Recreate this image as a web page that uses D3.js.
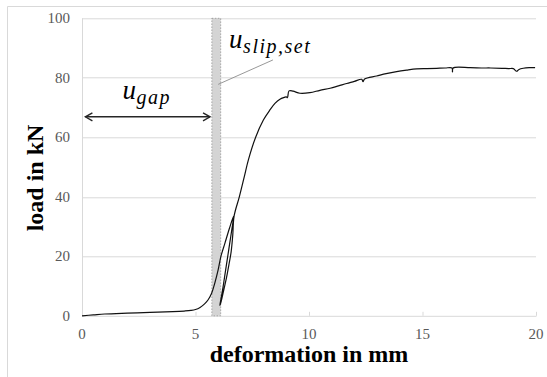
<!DOCTYPE html>
<html>
<head>
<script src="https://cdn.jsdelivr.net/npm/d3@7"></script>
</head>
<body style="margin:0">
<script>
// deformation (mm) and load (kN), incl. the unload/reload loop
const deformation = [
    0, 0.5, 1, 2, 3, 4, 4.5, 4.8, 5.0, 5.2, 5.4, 5.55, 5.71, 5.85, 6.0, 6.12, 6.3, 6.5, 6.68,
    6.6, 6.5, 6.42, 6.32, 6.22, 6.13, 6.08, 6.08,
    6.12, 6.24, 6.37, 6.48, 6.57, 6.64, 6.7,
    6.93, 7.15, 7.33, 7.65, 7.99, 8.28, 8.5, 8.72, 8.91, 9.0, 9.05, 9.12, 9.3, 9.6, 10.04,
    10.48, 10.93, 11.3, 11.66, 12.0, 12.32, 12.38, 12.45, 12.98, 13.4, 13.86, 14.3, 14.74,
    15.2, 15.62, 16.0, 16.3, 16.32, 16.35, 17.1, 17.6, 18.0, 18.5, 18.8, 19.0, 19.1, 19.15,
    19.25, 19.44, 19.7, 19.96
];
const load = [
    0, 0.3, 0.6, 0.9, 1.15, 1.4, 1.6, 1.8, 2.1, 2.8, 4.0, 5.3, 7.6, 11, 15.5, 20, 24.5, 29.5, 33.5,
    29, 24, 20, 15, 10, 6, 3.8, 3.5,
    4.5, 8.5, 13, 17.5, 21.5, 27, 33.5,
    40, 46.8, 52.4, 60, 65.8, 69.2, 71.4, 72.8, 73.4, 73.6, 73.3, 75.6, 75.5, 74.8, 75.0,
    75.8, 76.5, 77.3, 78.1, 78.8, 79.5, 78.7, 79.6, 80.6, 81.4, 82.1, 82.6, 83.0,
    83.1, 83.2, 83.3, 83.3, 82.0, 83.3, 83.4, 83.3, 83.3, 83.2, 83.1, 83.1, 82.4, 82.2,
    82.8, 83.2, 83.4, 83.4
];

const xTicks = [0, 5, 10, 15, 20];
const yTicks = [0, 20, 40, 60, 80, 100];

// annotations (data units)
const slipBand = [5.72, 6.11];
const gapArrow = [0.15, 5.64];
const gapArrowLoad = 66.9;

const SERIF = 'Liberation Serif';

const W = 547, H = 377;
const margin = { top: 18.3, right: 11, bottom: 61.2, left: 82 };
const width = W - margin.left - margin.right;
const height = H - margin.top - margin.bottom;

const svg = d3.select('body')
    .append('svg')
    .attr('width', W)
    .attr('height', H);

// outer frame (only top and left edges are visible)
svg.append('path')
    .attr('d', `M7.5,${H} V6.5 H${W}`)
    .attr('fill', 'none')
    .attr('stroke', '#d9d9d9')
    .attr('stroke-width', 1);

const g = svg.append('g')
    .attr('transform', `translate(${margin.left}, ${margin.top})`);

const x = d3.scaleLinear().domain([0, 20]).range([0, width]);
const y = d3.scaleLinear().domain([0, 100]).range([height, 0]);

// gridlines
g.selectAll('.grid')
    .data(yTicks.slice(1))
    .enter()
    .append('line')
    .attr('class', 'grid')
    .attr('x1', 0)
    .attr('x2', width)
    .attr('y1', d => Math.round(y(d)) + 0.5)
    .attr('y2', d => Math.round(y(d)) + 0.5)
    .attr('stroke', '#d9d9d9')
    .attr('stroke-width', 1);

// left axis line
g.append('line')
    .attr('x1', 0.5).attr('x2', 0.5)
    .attr('y1', 0).attr('y2', height)
    .attr('stroke', '#d9d9d9');

// x axis: ticks drawn by d3, labels as plain texts with the serif font
const xAxis = g.append('g')
    .attr('transform', `translate(0, ${height})`)
    .call(d3.axisBottom(x).tickValues(xTicks).tickSizeInner(-4).tickSizeOuter(0).tickFormat(''));
xAxis.select('.domain').attr('stroke', '#d9d9d9');
xAxis.selectAll('.tick line').attr('stroke', '#d9d9d9');

svg.selectAll('.xlab')
    .data(xTicks)
    .enter()
    .append('text')
    .attr('font-family', SERIF)
    .attr('font-size', 15)
    .attr('class', 'xlab')
    .attr('x', d => margin.left + x(d))
    .attr('y', margin.top + height + 23)
    .attr('text-anchor', 'middle')
    .attr('fill', '#595959')
    .text(d => d);

svg.selectAll('.ylab')
    .data(yTicks)
    .enter()
    .append('text')
    .attr('font-family', SERIF)
    .attr('font-size', 15)
    .attr('class', 'ylab')
    .attr('x', margin.left - 12)
    .attr('y', d => margin.top + y(d) + 5)
    .attr('text-anchor', 'end')
    .attr('fill', '#595959')
    .text(d => d);

// slip band
g.append('rect')
    .attr('x', x(slipBand[0]))
    .attr('y', y(100))
    .attr('width', x(slipBand[1]) - x(slipBand[0]))
    .attr('height', y(0) - y(100))
    .attr('fill', '#d4d4d4')
    .attr('stroke', '#8c8c8c')
    .attr('stroke-width', 0.7)
    .attr('stroke-dasharray', '1.5,1.5');

// curve
const pts = deformation.map((d, i) => ({ x: d, y: load[i] }));
const line = d3.line()
    .x(d => x(d.x))
    .y(d => y(d.y))
    .curve(d3.curveCatmullRom.alpha(0.5));

g.append('path')
    .datum(pts)
    .attr('d', line)
    .attr('fill', 'none')
    .attr('stroke', '#111')
    .attr('stroke-width', 1.2)
    .attr('stroke-linejoin', 'round');

// u_gap double arrow
const ay = y(gapArrowLoad);
const ax0 = x(gapArrow[0]), ax1 = x(gapArrow[1]);
g.append('line')
    .attr('x1', ax0).attr('x2', ax1)
    .attr('y1', ay).attr('y2', ay)
    .attr('stroke', '#262626')
    .attr('stroke-width', 1.4);
g.append('path')
    .attr('d', `M${ax0 + 7},${ay - 4} L${ax0},${ay} L${ax0 + 7},${ay + 4} M${ax1 - 7},${ay - 4} L${ax1},${ay} L${ax1 - 7},${ay + 4}`)
    .attr('fill', 'none')
    .attr('stroke', '#262626')
    .attr('stroke-width', 1.4);

// leader line to band
g.append('line')
    .attr('x1', x(6.0)).attr('y1', y(77.8))
    .attr('x2', x(8.41)).attr('y2', y(86.0))
    .attr('stroke', '#8c8c8c')
    .attr('stroke-width', 0.9);

function mathLabel(px, py, main, sub) {
    g.append('text')
        .attr('font-family', SERIF)
        .attr('font-size', 27)
        .attr('font-style', 'italic')
        .attr('x', px)
        .attr('y', py)
        .attr('fill', '#000')
        .text(main);
    g.append('text')
        .attr('font-family', SERIF)
        .attr('font-size', 20)
        .attr('font-style', 'italic')
        .attr('letter-spacing', 1.5)
        .attr('x', px + 14)
        .attr('y', py + 5)
        .attr('fill', '#000')
        .text(sub);
}
mathLabel(x(1.78), y(72.9), 'u', 'gap');
mathLabel(x(6.48), y(90.0), 'u', 'slip,set');

// axis titles
svg.append('text')
    .attr('font-family', SERIF)
    .attr('font-size', 24)
    .attr('font-weight', 'bold')
    .attr('x', margin.left + width / 2)
    .attr('y', 362)
    .attr('text-anchor', 'middle')
    .text('deformation in mm');

svg.append('text')
    .attr('font-family', SERIF)
    .attr('font-size', 24)
    .attr('font-weight', 'bold')
    .attr('transform', 'rotate(-90)')
    .attr('x', -178)
    .attr('y', 43)
    .attr('text-anchor', 'middle')
    .text('load in kN');
</script>
</body>
</html>
